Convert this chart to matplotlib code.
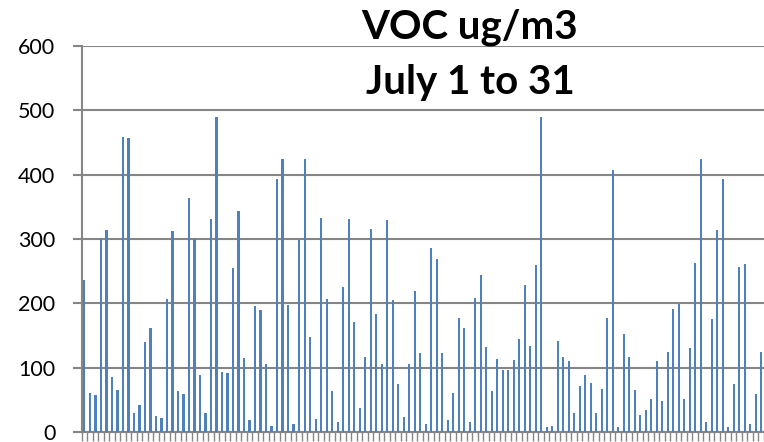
import matplotlib
matplotlib.use("Agg")
import matplotlib.pyplot as plt
import numpy as np

# VOC readings, four per day, July 1 to 31 (ug/m3)
voc = [
    237, 60, 57, 300, 314, 86, 66, 458, 457, 29, 42, 140, 161, 25, 21, 207,
    313, 63, 59, 363, 300, 88, 30, 331, 489, 94, 92, 255, 344, 115, 18, 196,
    189, 105, 10, 393, 425, 197, 13, 299, 425, 148, 20, 332, 207, 64, 15, 226,
    331, 171, 37, 116, 316, 183, 105, 329, 205, 74, 23, 106, 219, 123, 13, 286,
    269, 123, 18, 60, 177, 162, 16, 208, 244, 132, 64, 114, 96, 96, 112, 144,
    228, 134, 260, 489, 7, 10, 141, 116, 111, 29, 71, 89, 76, 29, 67, 177,
    408, 7, 153, 116, 66, 26, 34, 51, 110, 48, 125, 191, 199, 51, 130, 262,
    425, 15, 175, 314, 393, 8, 74, 256, 261, 13, 59, 124,
]
y_ticks = [0, 100, 200, 300, 400, 500, 600]
title_lines = ["VOC ug/m3", "July 1 to 31"]

bar_color = "#4F81BD"
axis_gray = "#868686"

fig = plt.figure(figsize=(7.64, 4.42), dpi=100)
ax = fig.add_axes([81.7 / 764, 10 / 442, 1 - 81.7 / 764, 386 / 442])

x = np.arange(len(voc))
ax.bar(x, voc, width=0.38, color=bar_color, zorder=3)

ax.set_ylim(0, 600)
ax.set_xlim(-0.5, len(voc) - 0.8)
ax.set_yticks(y_ticks)
ax.set_yticklabels([str(v) for v in y_ticks], fontfamily="Lato", fontsize=15.5)
ax.set_xticks(np.arange(len(voc) + 1) - 0.5)
ax.set_xticklabels([])

ax.grid(True, axis="y", color=axis_gray, linewidth=1.5, zorder=0)
ax.tick_params(axis="y", length=6.5, width=1.5, color=axis_gray, pad=12.5)
ax.tick_params(axis="x", length=6.5, width=1.0, color=axis_gray)

for side in ["top", "right"]:
    ax.spines[side].set_visible(False)
for side in ["left", "bottom"]:
    ax.spines[side].set_color(axis_gray)
    ax.spines[side].set_linewidth(1.5)

# two title lines, baselines
for line, base in zip(title_lines, [39, 94]):
    fig.text(470 / 764, 1 - base / 442, line, ha="center", va="baseline",
             fontfamily="Lato", fontweight="bold", fontsize=29)

fig.savefig("out.png", dpi=100)
